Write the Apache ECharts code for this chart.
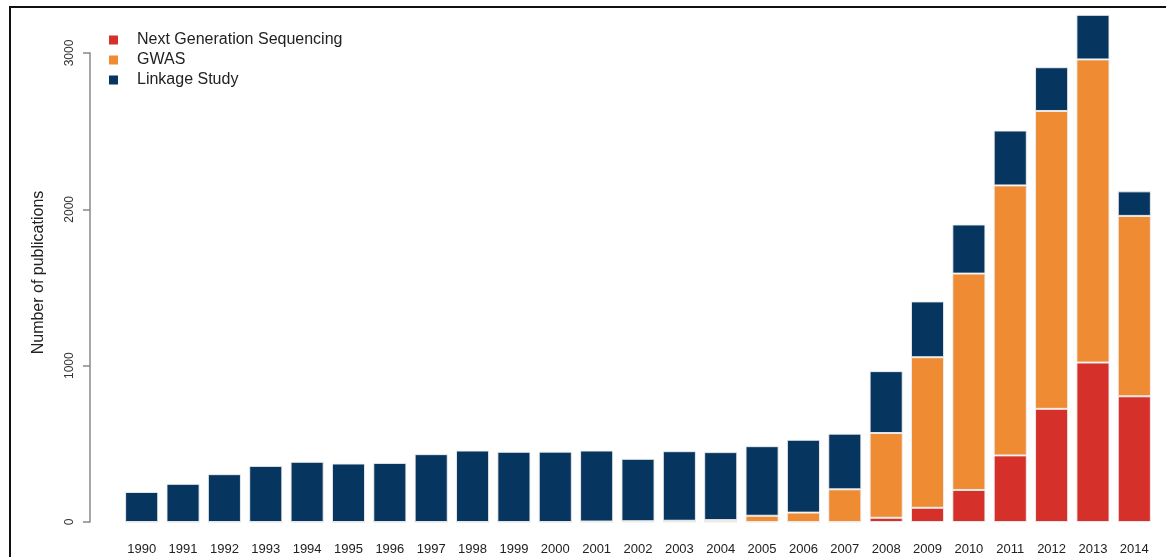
<!DOCTYPE html>
<html>
<head>
<meta charset="utf-8">
<script src="https://cdn.jsdelivr.net/npm/echarts@6/dist/echarts.min.js"></script>
<style>
html,body{margin:0;padding:0;background:#fff;}
#frame{position:absolute;left:9px;top:6px;width:1157px;height:551px;border-left:2px solid #111;border-top:2px solid #111;box-sizing:border-box;}
#chart{position:absolute;left:0;top:0;width:1166px;height:557px;}
</style>
</head>
<body>
<div id="frame"></div>
<div id="chart"></div>
<script>
const years = ['1990','1991','1992','1993','1994','1995','1996','1997','1998','1999','2000','2001','2002','2003','2004','2005','2006','2007','2008','2009','2010','2011','2012','2013','2014'];
const ngs = [0,0,0,0,0,0,0,0,0,0,0,0,0,0,0,0,0,0,27,91,205,426,724,1020,804];
const gwas = [0,0,0,0,0,0,0,0,0,0,0,3,5,8,12,40,60,209,542,963,1384,1727,1905,1939,1154];
const linkage = [192,244,306,359,385,374,378,434,457,449,450,454,399,445,435,445,466,356,396,357,314,351,280,285,157];
const yTicks = [0,1000,2000,3000];

const chart = echarts.init(document.getElementById('chart'));
const barStyle = c => ({color: c, borderColor: 'rgba(240,240,240,0.9)', borderWidth: 1});
chart.setOption({
  animation: false,
  backgroundColor: 'transparent',
  textStyle: {fontFamily: 'Liberation Sans, Arial, sans-serif'},
  legend: {
    orient: 'vertical', left: 104, top: 27,
    itemWidth: 9, itemHeight: 9, itemGap: 4,
    icon: 'rect',
    itemStyle: {borderWidth: 0},
    textStyle: {fontSize: 16, color: '#222', padding: [0,0,0,14]},
    data: ['Next Generation Sequencing','GWAS','Linkage Study']
  },
  grid: {left: 121, right: 11, top: 53, bottom: 35},
  xAxis: {
    type: 'category', data: years,
    axisLine: {show: false}, axisTick: {show: false},
    axisLabel: {fontSize: 13, color: '#222', margin: 21, interval: 0}
  },
  yAxis: {
    type: 'value', min: 0, max: 3000, interval: 1000,
    offset: 31,
    name: 'Number of publications', nameLocation: 'middle', nameGap: 43,
    nameTextStyle: {fontSize: 16, color: '#222', padding: [0,0,0,30]},
    splitLine: {show: false},
    axisLine: {show: true, lineStyle: {color: '#888', width: 1.5}},
    axisTick: {show: true, length: 7, lineStyle: {color: '#888', width: 1.5}},
    axisLabel: {rotate: 90, fontSize: 12, color: '#333', margin: 14,
      formatter: v => yTicks.includes(v) ? String(v) : ''}
  },
  series: [
    {name: 'Next Generation Sequencing', type: 'bar', stack: 'a', data: ngs, barWidth: '80%', clip: false, itemStyle: barStyle('#D6302A')},
    {name: 'GWAS', type: 'bar', stack: 'a', data: gwas, barWidth: '80%', clip: false, itemStyle: barStyle('#EE8B33')},
    {name: 'Linkage Study', type: 'bar', stack: 'a', data: linkage, barWidth: '80%', clip: false, itemStyle: barStyle('#06365F')}
  ]
});
</script>
</body>
</html>
